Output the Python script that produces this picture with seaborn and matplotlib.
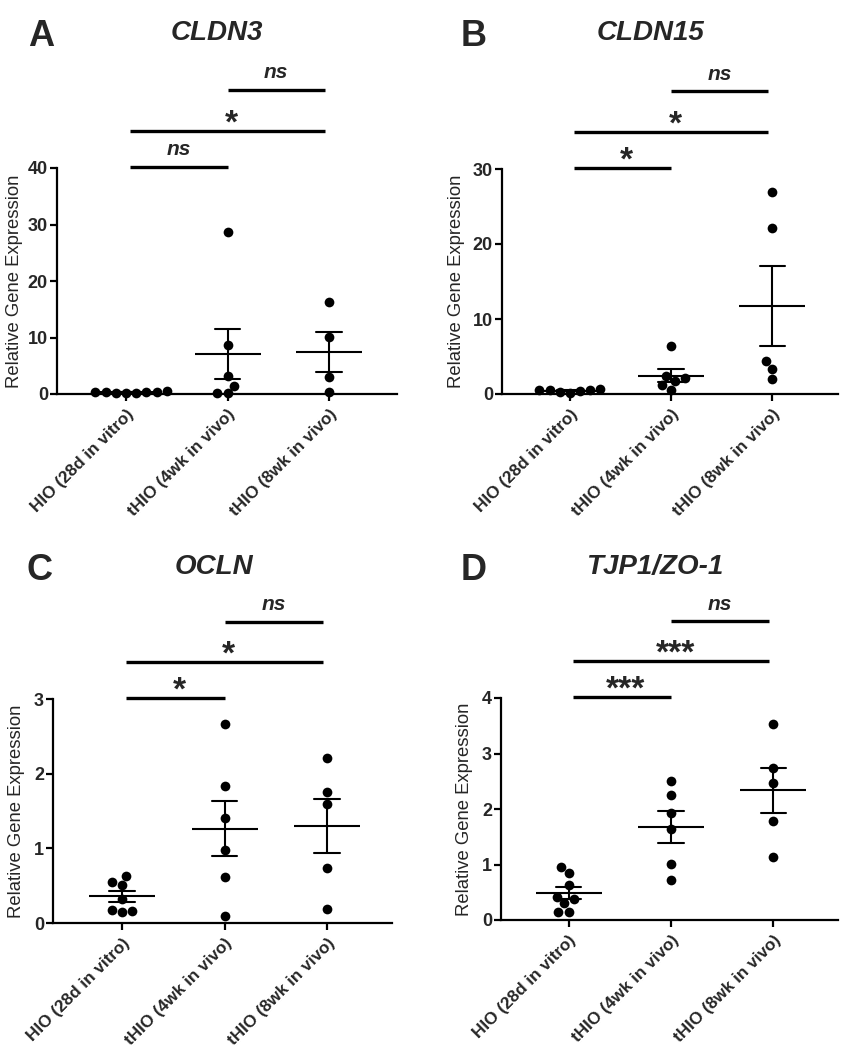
import numpy as np
import pandas as pd
import matplotlib
matplotlib.use("Agg")
import matplotlib.pyplot as plt
import seaborn as sns

# groups on the x axis
groups = ['HIO (28d in vitro)', 'tHIO (4wk in vivo)', 'tHIO (8wk in vivo)']

# relative gene expression, one list per group
cldn3_hio = [0.35, 0.3, 0.4, 0.2, 0.1, 0.5, 0.3, 0.25]
cldn3_4wk = [28.6, 8.7, 3.2, 1.5, 0.2, 0.2]
cldn3_8wk = [16.2, 10.1, 3.0, 0.3]

cldn15_hio = [0.3, 0.5, 0.6, 0.2, 0.7, 0.4, 0.5]
cldn15_4wk = [6.4, 2.45, 2.2, 1.8, 1.15, 0.6]
cldn15_8wk = [26.9, 22.2, 4.35, 3.3, 2.0]

ocln_hio = [0.63, 0.55, 0.51, 0.32, 0.18, 0.15, 0.16]
ocln_4wk = [2.67, 1.83, 1.40, 0.98, 0.62, 0.09]
ocln_8wk = [2.21, 1.75, 1.60, 0.74, 0.19]

tjp1_hio = [0.96, 0.85, 0.63, 0.42, 0.37, 0.31, 0.15, 0.15]
tjp1_4wk = [2.51, 2.25, 1.92, 1.64, 1.01, 0.72]
tjp1_8wk = [3.54, 2.74, 2.47, 1.79, 1.13]

# significance labels: (HIO vs 4wk, HIO vs 8wk, 4wk vs 8wk)
cldn3_sig = ['ns', '*', 'ns']
cldn15_sig = ['*', '*', 'ns']
ocln_sig = ['*', '*', 'ns']
tjp1_sig = ['***', '***', 'ns']

cldn3_ticks = [0, 10, 20, 30, 40]
cldn15_ticks = [0, 10, 20, 30]
ocln_ticks = [0, 1, 2, 3]
tjp1_ticks = [0, 1, 2, 3, 4]

sns.set_style("ticks")
plt.rcParams['font.family'] = ['Liberation Sans', 'DejaVu Sans']

W, H = 844, 1050
fig = plt.figure(figsize=(W / 100, H / 100), dpi=100)


def make_df(a, b, c):
    rows = []
    for g, vals in zip(groups, [a, b, c]):
        for v in vals:
            rows.append({'group': g, 'value': v})
    return pd.DataFrame(rows)


panels = [
    # letter, gene, data, sig, ticks, axes box (px: left, right, top, bottom), xlim,
    # title x, ylabel x, letter x, letter y, title y
    ('A', 'CLDN3', make_df(cldn3_hio, cldn3_4wk, cldn3_8wk), cldn3_sig, cldn3_ticks,
     (57, 397, 168, 394), (-0.68, 2.67), 217, -0.10, 41, 37, 33),
    ('B', 'CLDN15', make_df(cldn15_hio, cldn15_4wk, cldn15_8wk), cldn15_sig, cldn15_ticks,
     (502, 838, 169, 394), (-0.67, 2.65), 651, -0.11, 474, 37, 33),
    ('C', 'OCLN', make_df(ocln_hio, ocln_4wk, ocln_8wk), ocln_sig, ocln_ticks,
     (53, 392, 699, 923), (-0.67, 2.63), 214, -0.083, 40, 570, 567),
    ('D', 'TJP1/ZO-1', make_df(tjp1_hio, tjp1_4wk, tjp1_8wk), tjp1_sig, tjp1_ticks,
     (501, 838, 698, 920), (-0.66, 2.63), 655, -0.083, 474, 570, 567),
]

for letter, gene, df, sig, ticks, box, xlim, title_x, label_x, let_x, let_y, title_y in panels:
    left, right, top, bottom = box
    ax = fig.add_axes([left / W, 1 - bottom / H, (right - left) / W, (bottom - top) / H])

    # mean +/- SEM
    sns.pointplot(data=df, x='group', y='value', order=groups, errorbar='se',
                  capsize=0.25, color='black', linestyle='none', marker='_',
                  markersize=48, markeredgewidth=1.5,
                  err_kws={'linewidth': 1.5}, ax=ax)
    sns.swarmplot(data=df, x='group', y='value', order=groups, color='black',
                  size=7, ax=ax, zorder=5)
    for coll in ax.collections:
        coll.set_clip_on(False)
    for ln in ax.lines:
        ln.set_clip_on(False)

    ymax = ticks[-1]
    ax.set_ylim(0, ymax)
    ax.set_xlim(*xlim)
    ax.set_yticks(ticks)
    ax.set_xlabel('')
    ax.set_ylabel('Relative Gene Expression', fontsize=13.3)
    ax.yaxis.set_label_coords(label_x, 0.5)
    ax.set_xticks(range(3))
    ax.set_xticklabels(groups, rotation=45, ha='right', rotation_mode='anchor',
                       fontsize=12.3, fontweight='bold')
    for t in ax.get_yticklabels():
        t.set_fontweight('bold')
        t.set_fontsize(13)
    ax.tick_params(axis='both', width=1.6, length=5, color='black', pad=1.5)
    ax.tick_params(axis='x', pad=4)
    sns.despine(ax=ax)
    for s in ['left', 'bottom']:
        ax.spines[s].set_linewidth(1.6)
        ax.spines[s].set_color('black')

    # significance bars
    bars = [(0.04, 1.0, 1.005, sig[0]), (0.04, 1.96, 1.165, sig[1]), (1.0, 1.96, 1.345, sig[2])]
    for x0, x1, frac, lab in bars:
        yb = frac * ymax
        ax.plot([x0, x1], [yb, yb], color='black', lw=2.4, clip_on=False,
                solid_capstyle='butt')
        if lab == 'ns':
            ax.annotate(lab, xy=((x0 + x1) / 2, yb), xytext=(0, 8.5), textcoords='offset points',
                        ha='center', va='baseline', fontsize=15, fontweight='bold',
                        fontstyle='italic', annotation_clip=False)
        else:
            ax.annotate(lab, xy=((x0 + x1) / 2 + 0.04, yb), xytext=(0, -1), textcoords='offset points',
                        ha='center', va='baseline', fontsize=24, fontweight='bold',
                        annotation_clip=False)

    fig.text(title_x / W, 1 - title_y / H, gene, ha='center', va='center',
             fontsize=20, fontweight='bold', fontstyle='italic')
    fig.text(let_x / W, 1 - let_y / H, letter, ha='center', va='center',
             fontsize=26, fontweight='bold')

fig.savefig('out.png', dpi=100)
